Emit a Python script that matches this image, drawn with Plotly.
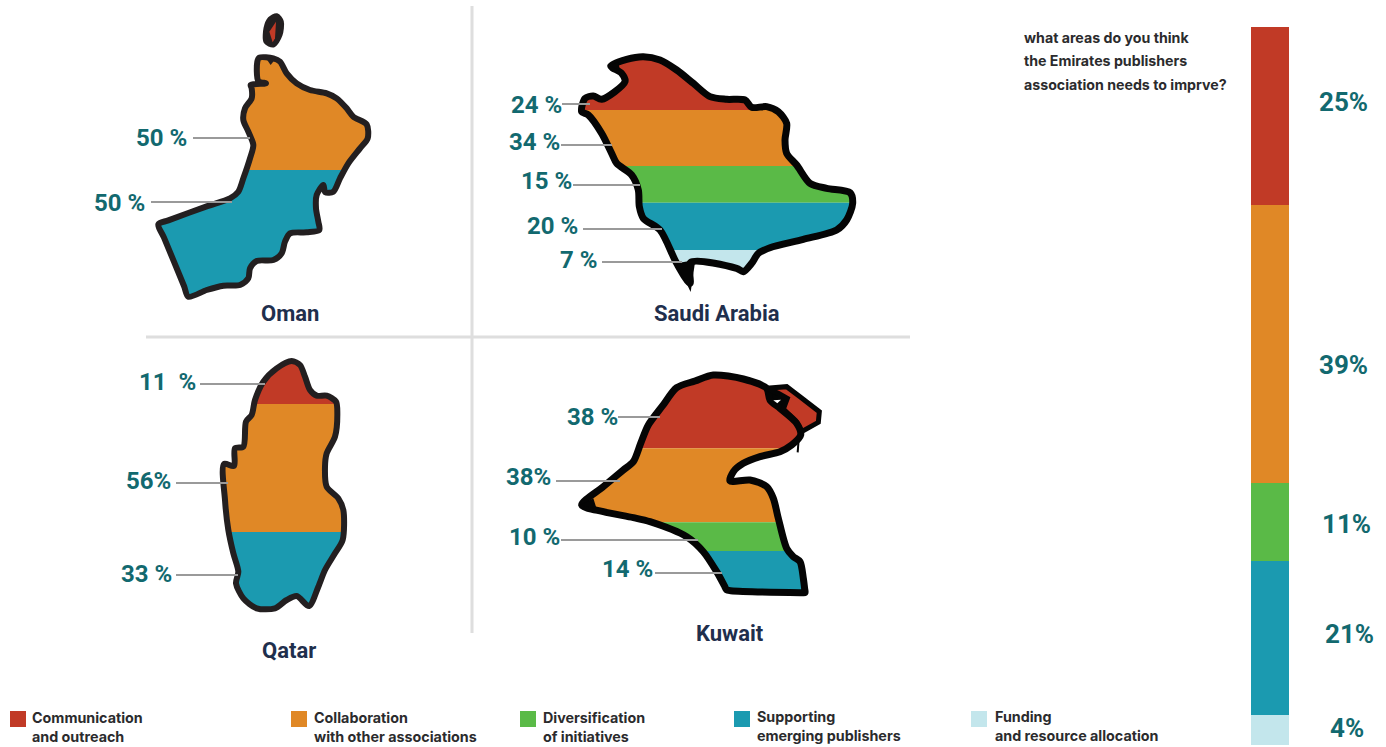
import plotly.graph_objects as go

# ---------- data ----------
CATEGORIES = ["Communication and outreach", "Collaboration with other associations",
              "Diversification of initiatives", "Supporting emerging publishers",
              "Funding and resource allocation"]
TOTAL_VALUES = [24.8, 38.7, 10.9, 21.4, 4.2]
COLORS = ["#C13A26", "#E08826", "#5ABA47", "#1B9AB0", "#C3E6EC"]
TEAL = "#12696F"
NAVY = "#1F2F4D"
DARK = "#2B2B2D"
GREY = "#9A9A9A"
RULE = "#DEDEDE"
FONT = "Roboto"
SMALL_FONT = "Inter"

OMAN_VALUES = ["50 %", "50 %"]
SAUDI_VALUES = ["24 %", "34 %", "15 %", "20 %", "7 %"]
QATAR_VALUES = ["11  %", "56%", "33 %"]
KUWAIT_VALUES = ["38 %", "38%", "10 %", "14 %"]

# outlines (crop coordinates, 3x; origin given separately)
OMAN_ORIGIN = (140, 5)
OMAN_MAIN = [(358,158),(400,160),(420,170),(440,205),(470,235),(510,255),(560,265),(590,280),(620,310),(640,335),
             (680,358),(683,400),(660,430),(625,475),(600,520),(580,560),(556,562),(550,540),(530,570),(528,610),
             (535,650),(538,675),(500,682),(450,685),(435,710),(425,745),(400,765),(350,768),(330,790),(325,820),
             (300,840),(250,842),(200,855),(145,875),(132,843),(72,698),(55,658),(85,646),(200,604),(270,580),(295,560),(310,520),(330,460),
             (340,420),(325,380),(310,345),(315,310),(335,280),(335,250),(332,240),(378,235),(355,228),(352,170),(358,158)]
OMAN_ISLAND = [(410,32),(424,50),(420,90),(400,120),(378,110),(378,70),(390,42),(410,32)]
OMAN_SLIVER = [(408,50),(405,100),(398,112),(388,80),(408,50)]
OMAN_NOTCH = [(378,160),(392,180),(408,160),(378,160)]
OMAN_BANDS = [495]

SAUDI_ORIGIN = (570, 50)
SAUDI = [(122,48),(170,28),(220,20),(270,30),(320,60),(370,100),(420,140),(470,148),(525,150),(545,172),(590,170),
         (625,185),(650,220),(645,270),(650,310),(680,345),(720,400),(770,415),(840,428),(848,460),(830,510),(800,540),
         (700,568),(600,593),(565,610),(545,640),(520,665),(500,655),(362,637),(360,700),(320,640),(270,540),(220,505),
         (208,470),(205,420),(185,375),(140,340),(125,310),(95,250),(55,195),(35,185),(45,145),(70,138),(95,148),
         (165,95),(155,70),(122,48)]
SAUDI_SPIKE = [(320,640),(362,726),(376,630),(320,640)]
SAUDI_TIP = [(116,46),(145,36),(150,62),(116,46)]
SAUDI_BANDS = [180, 348, 458, 601]

QATAR_ORIGIN = (210, 350)
QATAR = [(245,33),(270,45),(285,80),(300,120),(320,137),(350,137),(378,155),(382,190),(375,260),(350,310),(345,350),
         (350,410),(385,445),(400,480),(398,570),(375,610),(345,660),(325,710),(297,768),(260,738),(230,750),(195,775),
         (140,775),(100,745),(78,700),(85,665),(70,610),(55,540),(45,450),(42,342),(72,348),(75,295),(100,290),(108,215),
         (125,195),(135,150),(160,95),(200,55),(245,33)]
QATAR_BANDS = [162, 546]

KUWAIT_ORIGIN = (570, 365)
KUWAIT = [(35,420),(100,365),(160,315),(190,290),(212,235),(235,180),(278,122),(320,68),(375,48),(430,30),(520,42),(590,70),(600,105),(630,130),(680,175),
          (692,210),(665,240),(630,260),(570,275),(520,295),(490,320),(480,348),(540,345),(590,365),(610,400),(625,460),
          (650,550),(670,575),(690,590),(700,640),(704,672),(705,683),(692,683),(482,677),(470,675),(463,662),(440,620),(400,560),(350,515),(240,470),(190,458),
          (100,440),(35,420)]
KUWAIT_ISLAND = [(590,70),(650,65),(690,95),(748,140),(745,172),(695,200),(680,172),(640,132),(652,100),(625,85),(590,70)]
KUWAIT_GAP = [(590,72),(625,85),(652,100),(640,132),(600,108),(590,72)]
KUWAIT_HOLE = [(610,106),(633,104),(622,115),(610,106)]
KUWAIT_SPIKE = [(686,222),(683,262)]
KUWAIT_TIP = [(32,420),(70,400),(80,432),(32,420)]
KUWAIT_BANDS = [250, 472, 558]


def px(points, origin):
    return [(origin[0] + x / 3, origin[1] + y / 3) for x, y in points]


def clip(poly, y, keep_below):
    out = []
    inside = (lambda p: p[1] >= y) if keep_below else (lambda p: p[1] <= y)
    for i in range(len(poly)):
        a, b = poly[i], poly[(i + 1) % len(poly)]
        if inside(a):
            out.append(a)
        if inside(a) != inside(b):
            t = (y - a[1]) / (b[1] - a[1])
            out.append((a[0] + t * (b[0] - a[0]), y))
    return out


fig = go.Figure()


def area(points, color):
    if not points:
        return
    points = list(points) + [points[0]]
    fig.add_trace(go.Scatter(x=[p[0] for p in points], y=[p[1] for p in points], mode="lines", fill="toself",
                             fillcolor=color, line=dict(width=0), hoverinfo="skip"))


def stroke(points, color, width, spline=True):
    fig.add_trace(go.Scatter(x=[p[0] for p in points], y=[p[1] for p in points], mode="lines",
                             line=dict(color=color, width=width, shape="spline" if spline else "linear", smoothing=0.8),
                             hoverinfo="skip"))


def banded(outline, origin, bands, colors):
    pts = px(outline, origin)
    ys = [None] + [origin[1] + b / 3 for b in bands] + [None]
    for i, col in enumerate(colors):
        poly = pts[:-1]
        if ys[i] is not None:
            poly = clip(poly, ys[i], True)
        if ys[i + 1] is not None and poly:
            poly = clip(poly, ys[i + 1], False)
        area(poly, col)


# Oman
banded(OMAN_MAIN, OMAN_ORIGIN, OMAN_BANDS, [COLORS[1], COLORS[3]])
stroke(px(OMAN_MAIN, OMAN_ORIGIN), "#231F20", 6)
area(px(OMAN_NOTCH, OMAN_ORIGIN), "#231F20")
area(px(OMAN_ISLAND, OMAN_ORIGIN), "#231F20")
stroke(px(OMAN_ISLAND, OMAN_ORIGIN), "#231F20", 5)
area(px(OMAN_SLIVER, OMAN_ORIGIN), COLORS[0])

# Saudi Arabia
banded(SAUDI, SAUDI_ORIGIN, SAUDI_BANDS, [COLORS[0], COLORS[1], COLORS[2], COLORS[3], COLORS[4]])
stroke(px(SAUDI, SAUDI_ORIGIN), "#050505", 7)
area(px(SAUDI_SPIKE, SAUDI_ORIGIN), "#050505")
area(px(SAUDI_TIP, SAUDI_ORIGIN), "#050505")

# Qatar
banded(QATAR, QATAR_ORIGIN, QATAR_BANDS, [COLORS[0], COLORS[1], COLORS[3]])
stroke(px(QATAR, QATAR_ORIGIN), "#231F20", 6)

# Kuwait
banded(KUWAIT, KUWAIT_ORIGIN, KUWAIT_BANDS, [COLORS[0], COLORS[1], COLORS[2], COLORS[3]])
area(px(KUWAIT_ISLAND, KUWAIT_ORIGIN), COLORS[0])
area(px(KUWAIT_GAP, KUWAIT_ORIGIN), "#050505")
stroke(px(KUWAIT, KUWAIT_ORIGIN), "#050505", 7)
area(px(KUWAIT_TIP, KUWAIT_ORIGIN), "#050505")
stroke(px(KUWAIT_ISLAND, KUWAIT_ORIGIN), "#050505", 5, spline=False)
area(px(KUWAIT_HOLE, KUWAIT_ORIGIN), "#FFFFFF")
stroke(px(KUWAIT_SPIKE, KUWAIT_ORIGIN), "#050505", 2, spline=False)

# Stacked total bar on its own axes
for name, val, col in zip(CATEGORIES, TOTAL_VALUES, COLORS):
    fig.add_trace(go.Bar(x=[0], y=[val], name=name, marker=dict(color=col, line=dict(width=0)), width=1,
                         xaxis="x2", yaxis="y2", hoverinfo="skip"))

W, H = 1386, 747
layout_shapes = []


def rule(x0, y0, x1, y1, color, width):
    layout_shapes.append(dict(type="line", x0=x0, y0=y0, x1=x1, y1=y1, xref="x", yref="y",
                              line=dict(color=color, width=width), layer="below"))


rule(146, 337, 910, 337, RULE, 3)
rule(472, 6, 472, 633, RULE, 3)

LEADERS = [(193,138,250,138),(151,202,232,202),
           (562,104,590,104),(561,145,612,145),(573,185,640,185),(583,229,662,229),(602,262,682,262),
           (200,384,265,384),(176,483,228,483),(176,575,238,575),
           (618,417,660,417),(556,481,620,481),(561,540,698,540),(655,573,722,573)]
for l in LEADERS:
    layout_shapes.append(dict(type="line", x0=l[0], y0=l[1], x1=l[2], y1=l[3], xref="x", yref="y",
                              line=dict(color=GREY, width=2)))

SWATCH_X = [10, 291, 520, 734, 971]
for sx, col in zip(SWATCH_X, COLORS):
    layout_shapes.append(dict(type="rect", x0=sx, x1=sx + 16, y0=711, y1=727, xref="x", yref="y",
                              fillcolor=col, line=dict(width=0)))

ann = []


def text(s, x, y, size, color, anchor="center", family=FONT):
    ann.append(dict(text=s, x=x, y=y, xref="x", yref="y", showarrow=False, xanchor=anchor, yanchor="middle",
                    font=dict(family=family, size=size, color=color, weight="bold")))


LABEL_POS = [(161,138),(119,203),(536,105),(534,142),(546,181),(552,226),(578,260),
             (167,382),(148,481),(146,574),(592,417),(528,477),(534,537),(627,569)]
for s, (x, y) in zip(OMAN_VALUES + SAUDI_VALUES + QATAR_VALUES + KUWAIT_VALUES, LABEL_POS):
    text(s, x, y, 24, TEAL)

COUNTRIES = ["Oman", "Saudi Arabia", "Qatar", "Kuwait"]
COUNTRY_POS = [(290,313),(717,313),(289,650),(730,633)]
for s, (x, y) in zip(COUNTRIES, COUNTRY_POS):
    text(s, x, y, 22, NAVY)

TOTAL_LABELS = ["25%", "39%", "11%", "21%", "4%"]
TOTAL_POS = [(1343,102),(1343,365),(1346,524),(1349,634),(1347,728)]
for s, (x, y) in zip(TOTAL_LABELS, TOTAL_POS):
    text(s, x, y, 26, TEAL)

TITLE_LINES = ["what areas do you think", "the Emirates publishers", "association needs to imprve?"]
for s, y in zip(TITLE_LINES, [37, 60, 84]):
    text(s, 1022, y, 14.2, DARK, "left", SMALL_FONT)

LEGEND_LINES = [("Communication", 30, 717), ("and outreach", 30, 736),
                ("Collaboration", 312, 717), ("with other associations", 312, 736),
                ("Diversification", 541, 717), ("of initiatives", 541, 736),
                ("Supporting", 755, 716), ("emerging publishers", 755, 735),
                ("Funding", 993, 716), ("and resource allocation", 993, 735)]
for s, x, y in LEGEND_LINES:
    text(s, x, y, 14.3, DARK, "left", SMALL_FONT)

fig.update_layout(
    width=W, height=H, margin=dict(l=0, r=0, t=0, b=0), paper_bgcolor="white", plot_bgcolor="white",
    showlegend=False, hovermode=False, barmode="stack", shapes=layout_shapes, annotations=ann,
    xaxis=dict(range=[0, W], visible=False, domain=[0, 1], fixedrange=True),
    yaxis=dict(range=[H, 0], visible=False, domain=[0, 1], fixedrange=True),
    xaxis2=dict(range=[-0.5, 0.5], visible=False, domain=[1251 / W, 1289 / W], anchor="y2", fixedrange=True),
    yaxis2=dict(range=[100, 0], visible=False, domain=[(H - 745) / H, (H - 27) / H], anchor="x2", fixedrange=True),
)
fig.write_html("out.html", config=dict(displayModeBar=False),
               post_script="document.body.style.margin='0';document.body.style.overflow='hidden';")
